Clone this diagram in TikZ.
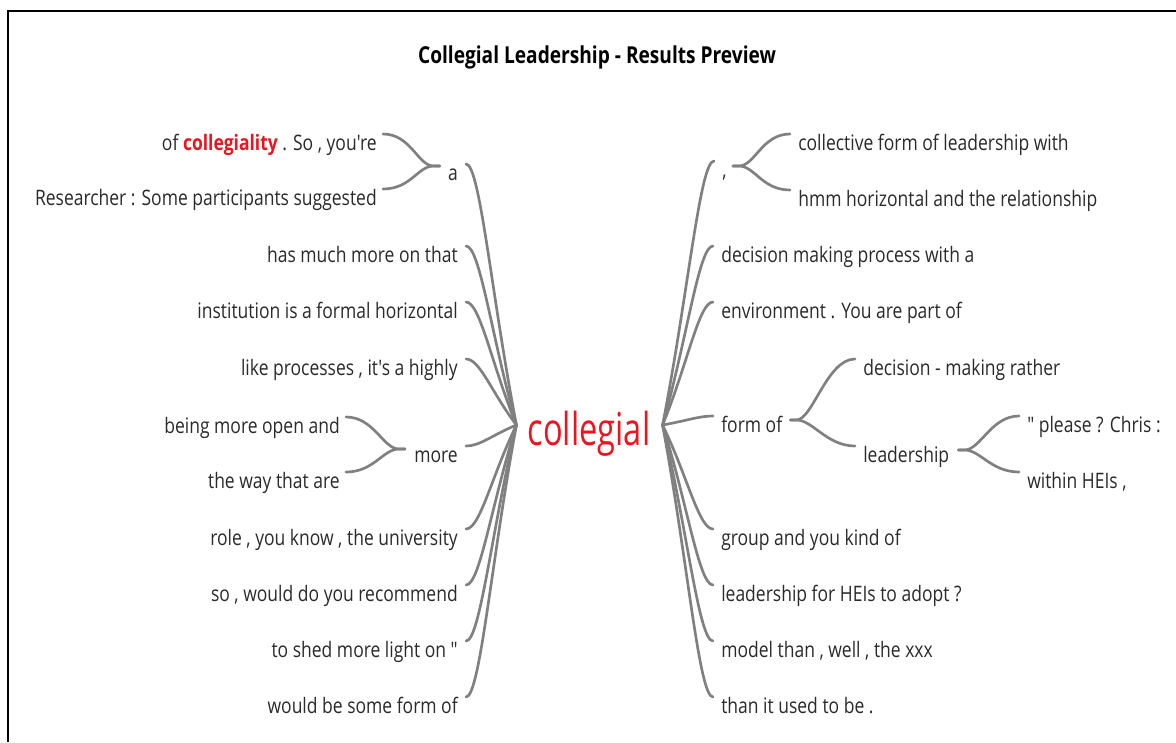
\documentclass[tikz,border=0pt]{standalone}
\usepackage{fontspec}
\setmainfont{Open Sans}[FakeStretch=0.82, Ligatures=TeXOff]
\newfontfamily\rootfont{Open Sans}[FakeStretch=0.72, Ligatures=TeXOff]
\usetikzlibrary{calc}
\definecolor{txt}{RGB}{42,42,42}
\definecolor{lnk}{RGB}{128,128,128}
\definecolor{hot}{RGB}{236,20,30}
\begin{document}
\begin{tikzpicture}[x=0.75pt,y=-0.75pt,
  lbl/.style={font=\fontsize{16}{19}\selectfont, text=txt, inner sep=0pt},
  lft/.style={lbl, anchor=base east},
  rgt/.style={lbl, anchor=base west},
  link/.style={draw=lnk, line width=2pt, line cap=round}]
\useasboundingbox (0,0) rectangle (1176,742);
% frame
\draw[line width=1.6pt] (8,742) -- (8,11) -- (1176,11);
% title
\node[font=\bfseries\fontsize{17.5}{21}\selectfont, inner sep=0pt, anchor=base] (title) at (597,64) {Collegial Leadership - Results Preview};
% root
\node[font=\rootfont\fontsize{34}{40}\selectfont, text=hot, inner sep=0pt, anchor=base] (root) at (589,445) {collegial};
\coordinate (cl) at ($(root.base west)+(-11,-20)$);
\coordinate (cr) at ($(root.base east)+(12,-20)$);
% left branches
\node[lft] (la) at (458,180) {a};
\node[lft] (lb) at (458,262) {has much more on that};
\node[lft] (lc) at (458,318) {institution is a formal horizontal};
\node[lft] (ld) at (458,375) {like processes , it's a highly};
\node[lft] (le) at (458,462) {more};
\node[lft] (lf) at (458,545) {role , you know , the university};
\node[lft] (lg) at (458,601) {so , would do you recommend};
\node[lft] (lh) at (458,657) {to shed more light on "};
\node[lft] (li) at (458,713) {would be some form of};
% left sub-branches
\node[lft] (la1) at (377,150) {of \textcolor{hot}{\bfseries collegiality} . So , you're};
\node[lft] (la2) at (377,205) {Researcher : Some participants suggested};
\node[lft] (le1) at (340,433) {being more open and};
\node[lft] (le2) at (340,488) {the way that are};
% right branches
\node[rgt] (ra) at (722,177) {,};
\node[rgt] (rb) at (721,262) {decision making process with a};
\node[rgt] (rc) at (721,318) {environment . You are part of};
\node[rgt] (rd) at (721,432) {form of};
\node[rgt] (re) at (721,545) {group and you kind of};
\node[rgt] (rf) at (721,601) {leadership for HEIs to adopt ?};
\node[rgt] (rg) at (721,657) {model than , well , the xxx};
\node[rgt] (rh) at (721,713) {than it used to be .};
% right sub-branches
\node[rgt] (ra1) at (798,150) {collective form of leadership with};
\node[rgt] (ra2) at (798,206) {hmm horizontal and the relationship};
\node[rgt] (rd1) at (863,375) {decision - making rather};
\node[rgt] (rd2) at (863,462) {leadership};
\node[rgt] (rd21) at (1027,432) {" please ? Chris :};
\node[rgt] (rd22) at (1027,488) {within HEIs ,};

% connectors from the root
\foreach \n in {la,lb,lc,ld,le,lf,lg,lh,li} {
  \coordinate (\n-p) at ($(\n.base east)+(8,-16)$);
  \draw[link] (\n-p) .. controls ($(\n-p)+(14,0)$) and ($(\n-p)!0.5!(cl)$) .. (cl);
}
\foreach \n in {ra,rb,rc,rd,re,rf,rg,rh} {
  \coordinate (\n-p) at ($(\n.base west)+(-8,-16)$);
  \draw[link] (\n-p) .. controls ($(\n-p)+(-14,0)$) and ($(\n-p)!0.5!(cr)$) .. (cr);
}
% forks on the left
\coordinate (la-f) at ($(la.base west)+(-8,-14)$);
\coordinate (le-f) at ($(le.base west)+(-9,-13)$);
\foreach \n/\f in {la1/la-f,la2/la-f,le1/le-f,le2/le-f} {
  \coordinate (\n-p) at ($(\n.base east)+(6,-16)$);
  \draw[link] (\f) -- ++(-6,0) .. controls ($(\f)+(-22,0)$) and ($(\n-p)+(28,0)$) .. (\n-p);
}
% forks on the right
\coordinate (ra-f) at ($(ra.base east)+(6,-11)$);
\coordinate (rd-f) at ($(rd.base east)+(8,-12)$);
\coordinate (rd2-f) at ($(rd2.base east)+(9,-12)$);
\foreach \n/\f in {ra1/ra-f,ra2/ra-f,rd1/rd-f,rd2/rd-f,rd21/rd2-f,rd22/rd2-f} {
  \coordinate (\n-p) at ($(\n.base west)+(-8,-16)$);
  \draw[link] (\f) -- ++(6,0) .. controls ($(\f)+(22,0)$) and ($(\n-p)+(-28,0)$) .. (\n-p);
}
\end{tikzpicture}
\end{document}
